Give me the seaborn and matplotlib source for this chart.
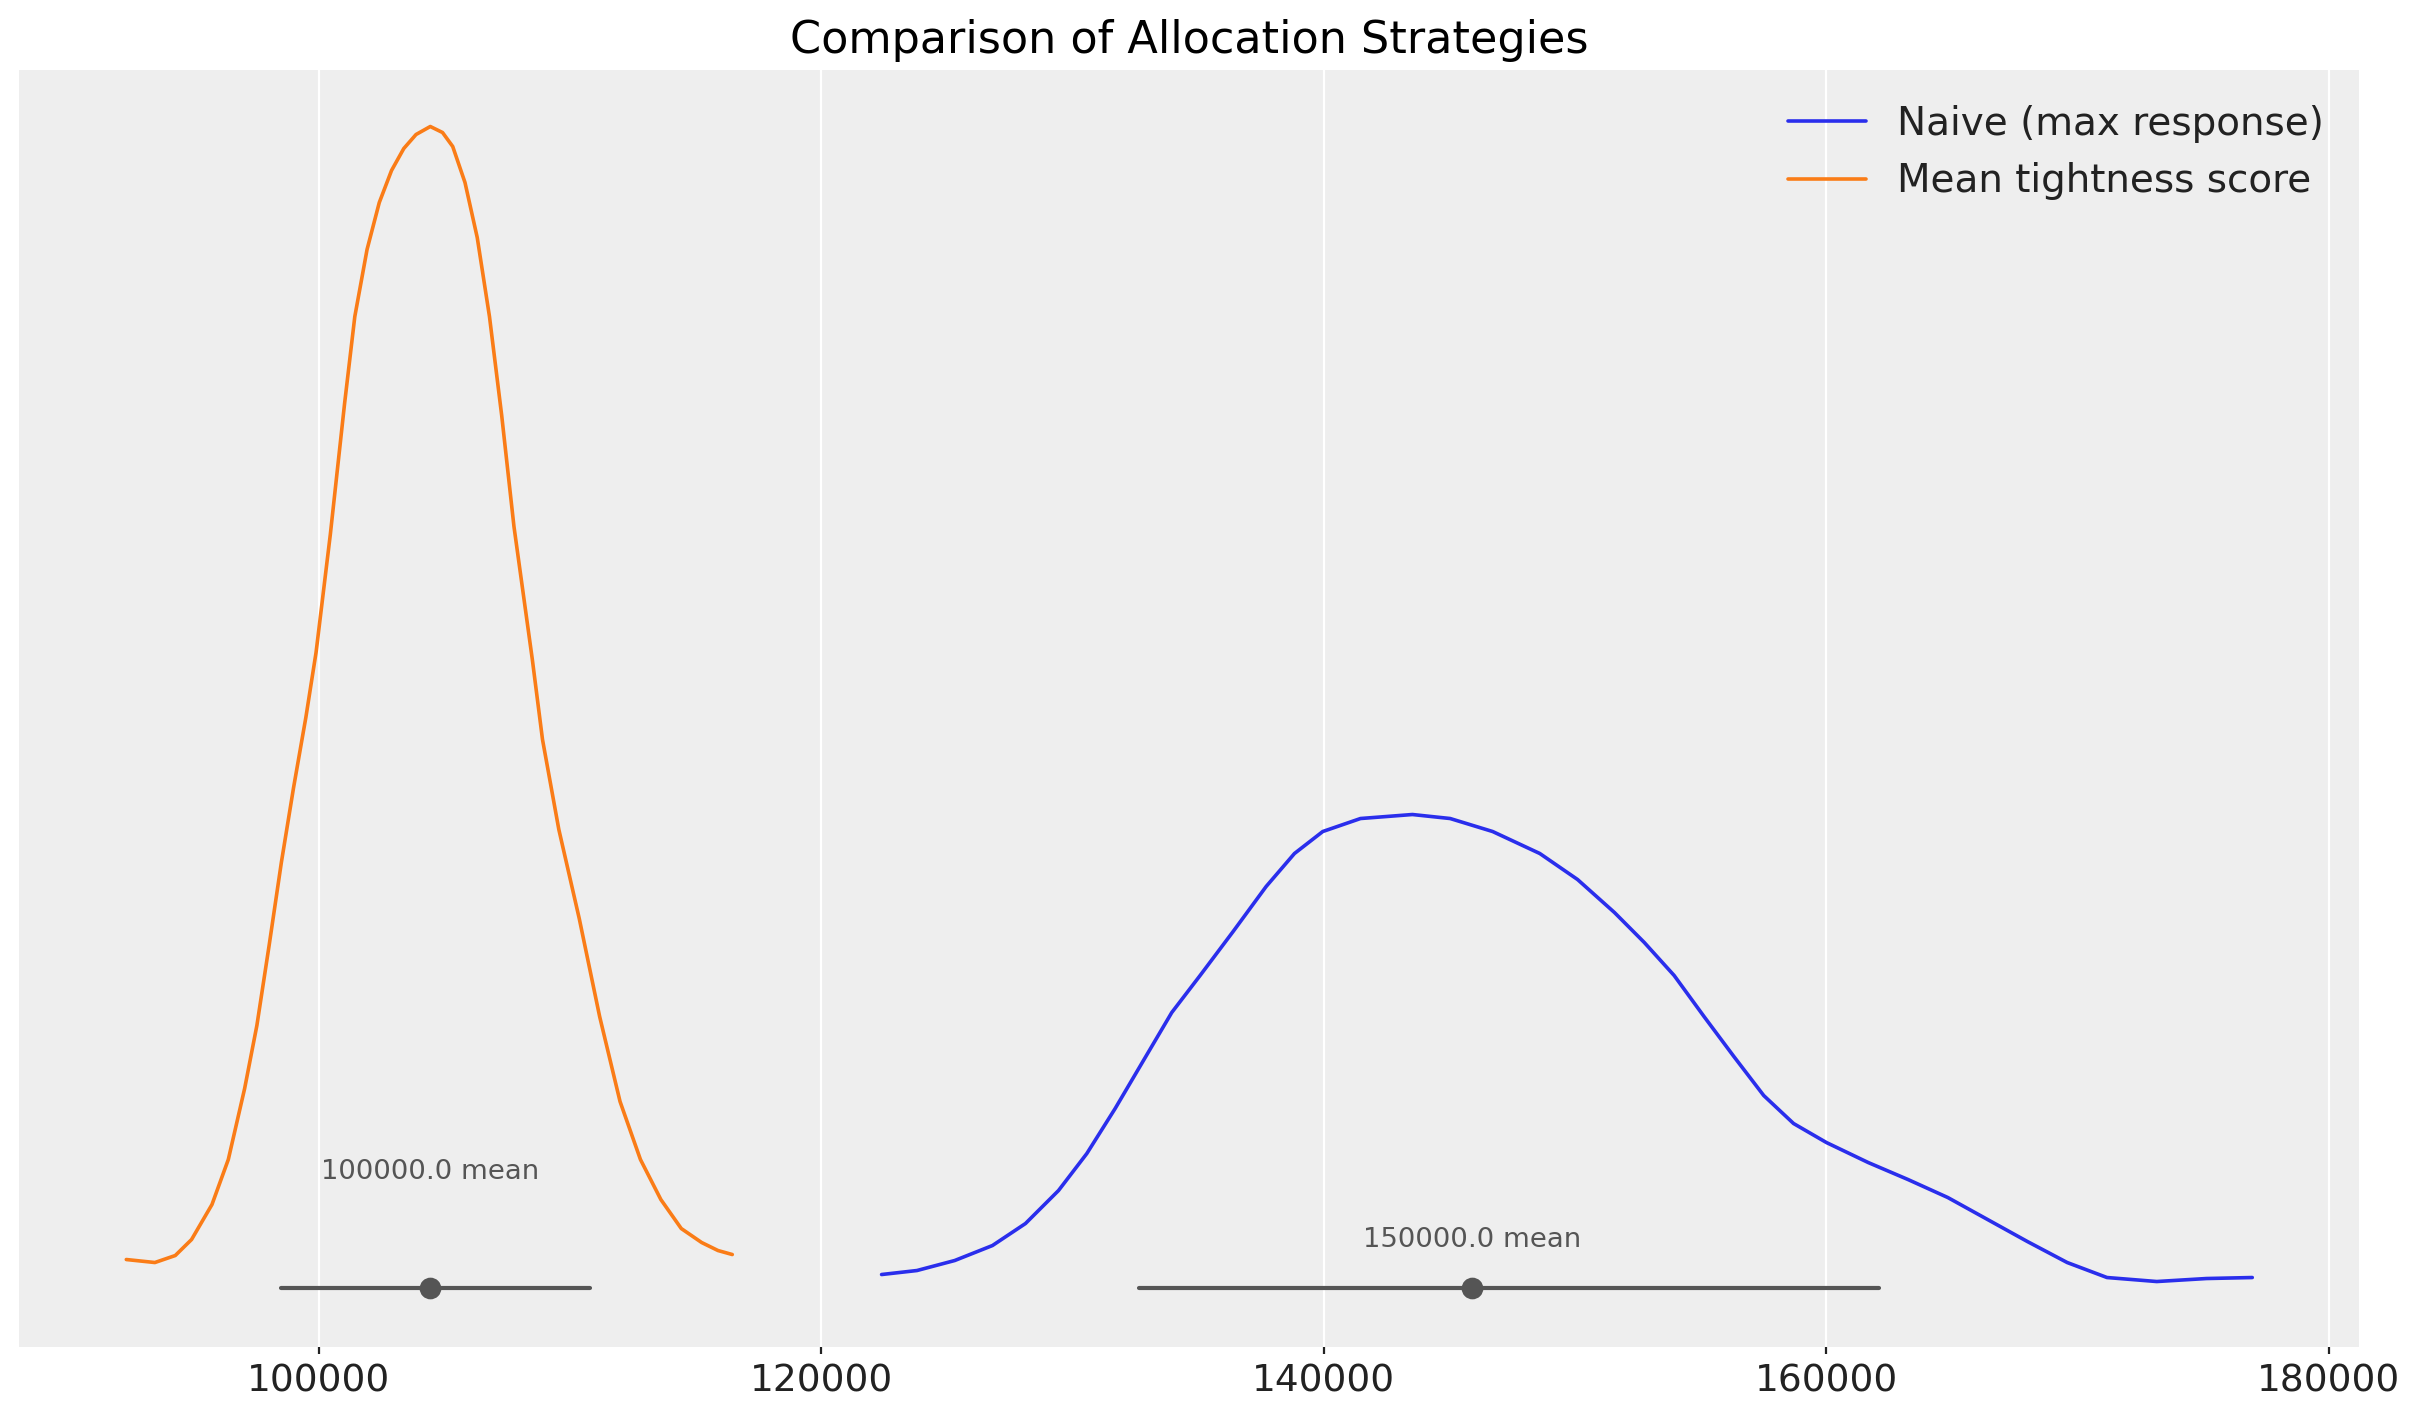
import numpy as np
import pandas as pd
import matplotlib
matplotlib.use("Agg")
import matplotlib.pyplot as plt
import seaborn as sns

sns.set_theme(style="darkgrid")
plt.rcParams['font.family'] = ['DejaVu Sans']

# density curves (x = allocation value, y = density, arbitrary units)
naive_x = [122398, 123806, 125308, 126811, 128125, 129440, 130567, 131694, 132820,
           133947, 135074, 136389, 137703, 138830, 139957, 141459, 143525, 145027,
           146718, 148596, 150098, 151567, 152755, 153943, 155131, 156319, 157507,
           158695, 160002, 161665, 163249, 164833, 166417, 168001, 169585, 171169,
           173149, 175129, 176951]
naive_y = [0.013, 0.017, 0.027, 0.042, 0.064, 0.097, 0.134, 0.179, 0.227,
           0.275, 0.312, 0.356, 0.401, 0.434, 0.456, 0.469, 0.473, 0.469,
           0.456, 0.434, 0.408, 0.375, 0.345, 0.312, 0.271, 0.231, 0.192,
           0.164, 0.145, 0.125, 0.108, 0.090, 0.068, 0.046, 0.025, 0.010,
           0.006, 0.009, 0.010]

tight_x = [92338, 93475, 94287, 94936, 95748, 96398, 97048, 97535, 98022, 98509,
           98996, 99484, 99890, 100458, 101026, 101433, 101920, 102407, 102894,
           103382, 103869, 104437, 104924, 105330, 105818, 106305, 106792, 107279,
           107767, 108498, 108903, 109553, 110365, 111177, 111989, 112801, 113613,
           114425, 115237, 115887, 116456]
tight_y = [0.028, 0.025, 0.032, 0.048, 0.083, 0.128, 0.199, 0.262, 0.342, 0.425,
           0.500, 0.570, 0.635, 0.753, 0.884, 0.971, 1.038, 1.085, 1.117,
           1.139, 1.153, 1.161, 1.155, 1.141, 1.105, 1.050, 0.971, 0.872,
           0.761, 0.628, 0.548, 0.458, 0.369, 0.271, 0.186, 0.128, 0.088,
           0.059, 0.045, 0.037, 0.033]

labels = ["Naive (max response)", "Mean tightness score"]
colors = ["#2a2eec", "#fa7c17"]

# HDI interval, point estimate and annotation per strategy
hdi_low = [132646, 98492]
hdi_high = [162090, 110799]
point_est = [145895, 104437]
text_y = [0.048, 0.116]
point_text = ["150000.0 mean", "100000.0 mean"]

df = pd.concat([
    pd.DataFrame({"value": naive_x, "density": naive_y, "strategy": labels[0]}),
    pd.DataFrame({"value": tight_x, "density": tight_y, "strategy": labels[1]}),
])

fig, ax = plt.subplots(figsize=(12.115, 7.115), dpi=200)
fig.subplots_adjust(left=0.008, right=0.9736, bottom=0.0536, top=0.9508)
ax.set_facecolor("#eeeeee")

sns.lineplot(data=df, x="value", y="density", hue="strategy", hue_order=labels,
             palette=colors, estimator=None, sort=False, linewidth=1.3, ax=ax)

for lo, hi, pt, ty, txt in zip(hdi_low, hdi_high, point_est, text_y, point_text):
    ax.plot([lo, hi], [0, 0], color="#555555", lw=1.5, solid_capstyle="round", zorder=3)
    ax.plot([pt], [0], "o", color="#555555", ms=6.8, zorder=4)
    ax.text(pt, ty, txt, ha="center", va="center", fontsize=9.9, color="#555555")

ax.set_xlim(88083, 181200)
ax.set_ylim(-0.0592, 1.2175)
ax.set_xticks([100000, 120000, 140000, 160000, 180000])
ax.ticklabel_format(axis="x", style="plain", useOffset=False)
ax.set_yticks([])
ax.yaxis.grid(False)
ax.xaxis.grid(True, color="white", linewidth=0.8)
for s in ax.spines.values():
    s.set_visible(False)
ax.tick_params(axis="x", bottom=True, length=2.6, width=0.8, color="#222222",
               labelsize=13.5, labelcolor="#222222", direction="out")
ax.set_xlabel("")
ax.set_ylabel("")
ax.set_title("Comparison of Allocation Strategies", fontsize=16, color="black")

leg = ax.legend(loc="upper right", frameon=False, fontsize=14)
for line in leg.get_lines():
    line.set_linewidth(1.3)
for t in leg.get_texts():
    t.set_color("#222222")

fig.savefig("out.png", dpi=200)
